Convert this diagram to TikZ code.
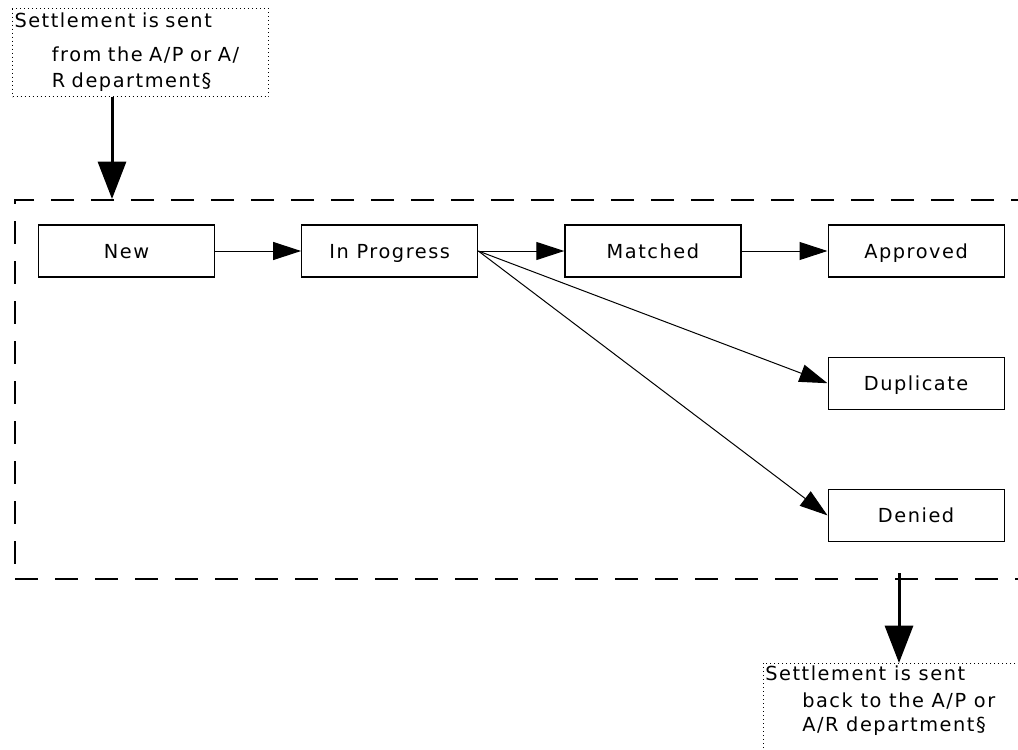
\documentclass[tikz,border=0pt]{standalone}
\usepackage{fontspec}
\setmainfont{DejaVu Sans}[LetterSpace=8]
\usetikzlibrary{arrows.meta,positioning}

\begin{document}
\begin{tikzpicture}[x=0.75pt, y=-0.75pt,
    font=\fontsize{14.5pt}{16pt}\selectfont,
    state/.style={draw, line width=0.9pt, minimum width=132pt, minimum height=39pt, inner sep=0pt,
                  text height=1.1em, text depth=0pt},
    notetext/.style={align=left, inner xsep=1.5pt, inner ysep=2pt},
    notebox/.style={draw, line width=0.75pt, dash pattern=on 0.75pt off 2.25pt},
    zone/.style={draw, line width=1.5pt, dash pattern=on 17pt off 13pt},
    flow/.style={line width=0.75pt, -{Triangle[length=21pt,width=13.5pt]}},
    bigflow/.style={line width=2.25pt, -{Triangle[length=28pt,width=21pt]}}]

    % Bildausschnitt
    \path[use as bounding box] (0,0) rectangle (1018,750);
    \clip (0,0) rectangle (1018,750);

    % Eingang
    \node[notetext, notebox, anchor=north west, text width=189pt, minimum height=66pt] (src) at (12,8)
        {Settlement is sent\\[9.5pt]\hspace*{28pt}from the A/P or A/\\[3.5pt]\hspace*{28pt}R department§};

    % Gestrichelter Rahmen
    \node[zone, anchor=north west, minimum width=825pt, minimum height=284.25pt] (area) at (14,199) {};

    % Zustaende
    \node[state] (new) at (126.5,251) {New};
    \node[state, right=64.5pt of new] (progress) {In Progress};
    \node[state, right=64.5pt of progress] (matched) {Matched};
    \node[state, right=64.5pt of matched] (approved) {Approved};
    \node[state, below=59.25pt of approved] (duplicate) {Duplicate};
    \node[state, below=59.25pt of duplicate] (denied) {Denied};

    % Uebergaenge
    \draw[flow] (new) -- (progress);
    \draw[flow] (progress) -- (matched);
    \draw[flow] (matched) -- (approved);
    \draw[flow] (progress.east) -- (duplicate.west);
    \draw[flow] (progress.east) -- (denied.west);

    % Ausgang
    \node[notetext, anchor=north west] (dst) at (763,663)
        {Settlement is sent\\[4.25pt]\hspace*{27.75pt}back to the A/P or\\[2pt]\hspace*{27.75pt}A/R department§};
    \draw[notebox] (dst.north west) rectangle ++(300,120);

    % Pfeile rein und raus
    \coordinate (entry) at (112,199);
    \coordinate (exit) at (899,573);
    \draw[bigflow] (src.south -| entry) -- (entry);
    \draw[bigflow] (exit) -- (exit |- dst.north);
\end{tikzpicture}
\end{document}
